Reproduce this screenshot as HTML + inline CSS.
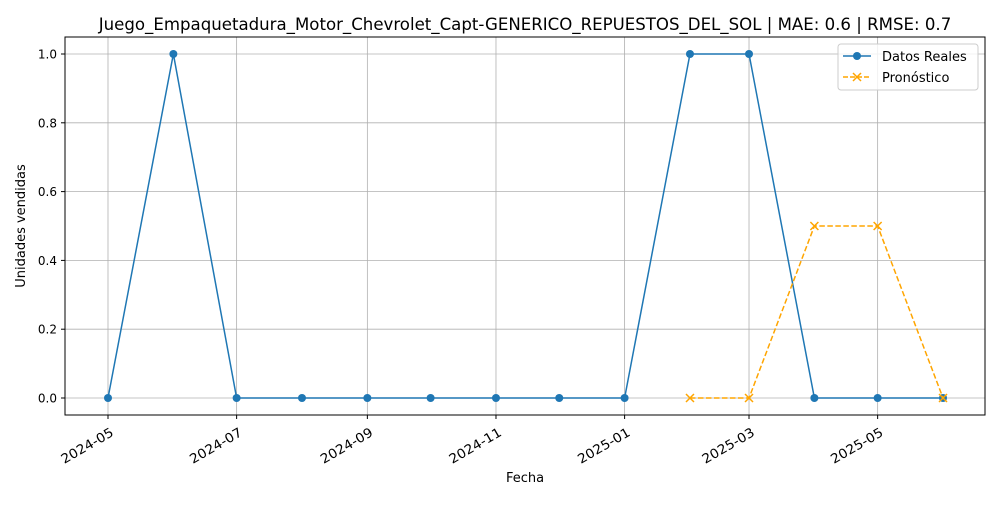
<!DOCTYPE html>
<html><head><meta charset="utf-8"><style>
body{margin:0;background:#fff;font-family:"Liberation Sans","DejaVu Sans",sans-serif;}
svg text{font-family:"DejaVu Sans","Liberation Sans",sans-serif;}
</style></head><body>
<svg id="chart" width="1000" height="500" xmlns="http://www.w3.org/2000/svg">
<rect width="1000" height="500" fill="#fff"/>
<text x="525" y="30" text-anchor="middle" font-size="16.6">Juego_Empaquetadura_Motor_Chevrolet_Capt-GENERICO_REPUESTOS_DEL_SOL | MAE: 0.6 | RMSE: 0.7</text>
<g id="grid"></g>
<g id="axes"></g>
<g id="series"></g>
<rect x="65" y="37" width="920" height="378" fill="none" stroke="#000" stroke-width="1"/>
<text x="525" y="482" text-anchor="middle" font-size="13">Fecha</text>
<text transform="translate(25,226) rotate(-90)" text-anchor="middle" font-size="13">Unidades vendidas</text>
<g>
<rect x="838" y="44" width="140" height="46" rx="3" fill="#fff" fill-opacity="0.8" stroke="#ccc"/>
<g>
<line x1="843" y1="56" x2="871" y2="56" stroke="#1f77b4" stroke-width="1.5"/>
<circle cx="857" cy="56" r="4" fill="#1f77b4"/>
<text x="882" y="61" font-size="13">Datos Reales</text></g>
<g>
<line x1="843" y1="77" x2="871" y2="77" stroke="orange" stroke-width="1.5" stroke-dasharray="5,2"/>
<path d="M853,73 l8,8 M861,73 l-8,8" stroke="orange" stroke-width="1.5"/>
<text x="882" y="82" font-size="13">Pronóstico</text></g>
</g>
</svg>
<script>
const realDates=["2024-05-01","2024-06-01","2024-07-01","2024-08-01","2024-09-01","2024-10-01","2024-11-01","2024-12-01","2025-01-01","2025-02-01","2025-03-01","2025-04-01","2025-05-01","2025-06-01"];
const realValues=[0,1,0,0,0,0,0,0,0,1,1,0,0,0];
const forecastDates=["2025-02-01","2025-03-01","2025-04-01","2025-05-01","2025-06-01"];
const forecastValues=[0,0,0.5,0.5,0];
const xTickLabels=["2024-05","2024-07","2024-09","2024-11","2025-01","2025-03","2025-05"];
const yTicks=[0,0.2,0.4,0.6,0.8,1.0];

const NS="http://www.w3.org/2000/svg";
const t0=Date.UTC(2024,4,1);
function xs(d){const [y,m,dd]=d.split("-").map(Number);return 108+(Date.UTC(y,m-1,dd||1)-t0)/86400000*2.1086;}
function ys(v){return 398-v*344;}
function mk(tag,attrs,parent){const e=document.createElementNS(NS,tag);for(const k in attrs)e.setAttribute(k,attrs[k]);parent.appendChild(e);return e;}
const grid=document.getElementById("grid"),axes=document.getElementById("axes"),series=document.getElementById("series");
yTicks.forEach(v=>{
  const y=ys(v);
  const gl=mk("line",{x1:65,x2:985,y1:y,y2:y,stroke:"#b0b0b0","stroke-width":0.8},grid);
  
  
  mk("line",{x1:61,x2:65,y1:y,y2:y,stroke:"#000"},axes);
  const t=mk("text",{x:57,y:y+4.5,"text-anchor":"end","font-size":12},axes);
  t.textContent=v.toFixed(1);
  
  
});
xTickLabels.forEach(l=>{
  const x=xs(l+"-01");
  const gl=mk("line",{x1:x,x2:x,y1:37,y2:415,stroke:"#b0b0b0","stroke-width":0.8},grid);
  
  
  mk("line",{x1:x,x2:x,y1:415,y2:419,stroke:"#000"},axes);
  const t=mk("text",{transform:`translate(${x+6.5},${435}) rotate(-30)`,"text-anchor":"end","font-size":13,textLength:58,lengthAdjust:"spacingAndGlyphs"},axes);
  t.textContent=l;
  
  
});
const rp=realDates.map((d,i)=>xs(d)+","+ys(realValues[i])).join(" ");
const rl=mk("polyline",{points:rp,fill:"none",stroke:"#1f77b4","stroke-width":1.5},series);


realDates.forEach((d,i)=>{
  const c=mk("circle",{cx:xs(d),cy:ys(realValues[i]),r:4,fill:"#1f77b4"},series);
  
  
});
const fp=forecastDates.map((d,i)=>xs(d)+","+ys(forecastValues[i])).join(" ");
const fl=mk("polyline",{points:fp,fill:"none",stroke:"orange","stroke-width":1.5,"stroke-dasharray":"5.5,2.5"},series);


forecastDates.forEach((d,i)=>{
  const x=xs(d),y=ys(forecastValues[i]);
  const p=mk("path",{d:`M${x-4},${y-4} l8,8 M${x+4},${y-4} l-8,8`,stroke:"orange","stroke-width":1.5},series);
  
  
});
</script>
</body></html>
